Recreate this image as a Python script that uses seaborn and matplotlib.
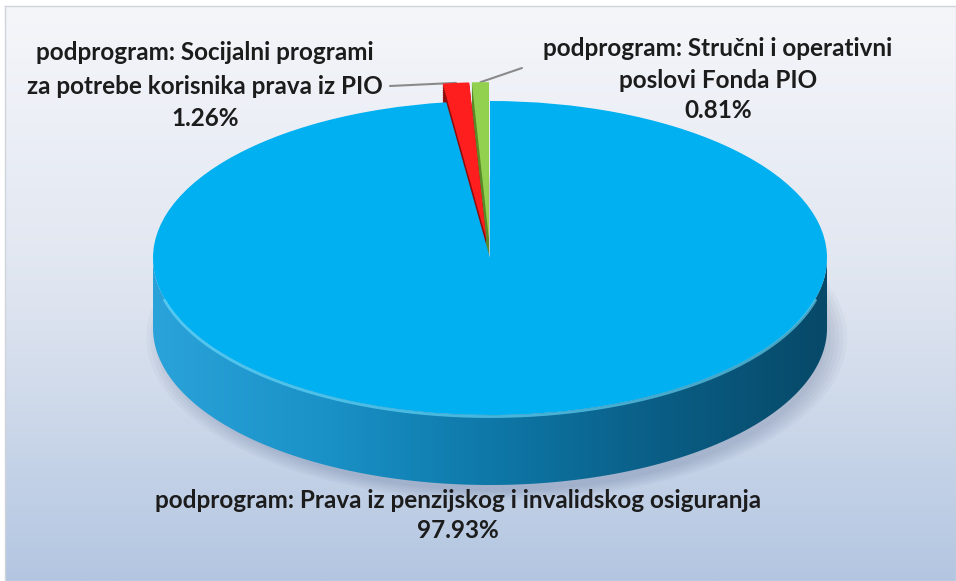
import numpy as np
import matplotlib
matplotlib.use("Agg")
import matplotlib.pyplot as plt
import seaborn as sns
from matplotlib.colors import LinearSegmentedColormap
from matplotlib.patches import Polygon, Ellipse

sns.set_theme(style="white")
plt.rcParams['font.family'] = ['Lato', 'DejaVu Sans']

# data
programs = ["Prava iz penzijskog i invalidskog osiguranja",
            "Socijalni programi za potrebe korisnika prava iz PIO",
            "Stručni i operativni poslovi Fonda PIO"]
shares = [97.93, 1.26, 0.81]
pct_labels = ["97.93%", "1.26%", "0.81%"]
label_lines = [
    ["podprogram: Prava iz penzijskog i invalidskog osiguranja"],
    ["podprogram: Socijalni programi", "za potrebe korisnika prava iz PIO"],
    ["podprogram: Stručni i operativni", "poslovi Fonda PIO"],
]
top_colors = ["#00b0f0", "#ff1e1e", "#92d050"]
side_colors = ["none", "#8e0c0c", "#5a8a28"]
explode = [0.0, 0.12, 0.12]

W, H = 956, 581
CX, CY, RX, RY = 490, 258, 337, 157   # pixel geometry of the pie top
DEPTH = 70 / RY

fig = plt.figure(figsize=(W / 100, H / 100), dpi=100, facecolor="white")

# background gradient
bg = fig.add_axes([5 / W, 0, 1 - 5 / W, 1 - 6 / H])
grad = np.linspace(0, 1, 256).reshape(-1, 1)
bg_cmap = LinearSegmentedColormap.from_list("bg", ["#f5f6fa", "#dfe5f0", "#b3c6e1"])
bg.imshow(grad, aspect="auto", cmap=bg_cmap, extent=(0, 1, 0, 1), origin="upper")
bg.set_xticks([])
bg.set_yticks([])
for s in bg.spines.values():
    s.set_edgecolor("#d0d4da")
    s.set_linewidth(1)

ax = fig.add_axes([0, 0, 1, 1])
ax.patch.set_alpha(0)

# soft shadow below the pie
for s in np.linspace(1.04, 0.98, 6):
    ax.add_patch(Ellipse((0.02, -DEPTH - 0.06), 2 * s, 2 * s,
                         facecolor="#3c4f78", edgecolor="none", alpha=0.04, zorder=0.5))

# side walls of the small exploded slices
for off in np.linspace(DEPTH, 0.01, 30):
    w, _ = ax.pie(shares, colors=side_colors, explode=explode, startangle=90,
                  counterclock=False, center=(0, -off),
                  wedgeprops=dict(linewidth=0))
    for p in w:
        p.set_zorder(1)

# side wall of the big slice with horizontal gradient
t = np.linspace(np.pi, 2 * np.pi, 300)
band = np.vstack([np.column_stack([np.cos(t), np.sin(t)]),
                  np.column_stack([np.cos(t[::-1]), np.sin(t[::-1]) - DEPTH])])
clip = Polygon(band, closed=True, facecolor="none", edgecolor="none")
ax.add_patch(clip)
side_cmap = LinearSegmentedColormap.from_list(
    "side", ["#2aa3da", "#1a92c8", "#0e78a8", "#0a5e86", "#074968"])
hgrad = np.linspace(0, 1, 256).reshape(1, -1)
im = ax.imshow(hgrad, extent=(-1, 1, -1 - DEPTH, 0), aspect="auto",
               cmap=side_cmap, zorder=1.5)
im.set_clip_path(clip)

# top face
wedges, _ = ax.pie(shares, colors=top_colors, explode=explode, startangle=90,
                   counterclock=False, wedgeprops=dict(linewidth=0))
for p in wedges:
    p.set_zorder(3)

# bright rim along the front edge
tr = np.linspace(np.radians(195), np.radians(345), 200)
ax.plot(np.cos(tr), np.sin(tr) - 0.01, color="#6fe0ff", lw=2, alpha=0.6, zorder=3.5)

ax.set_xlim(-CX / RX, (W - CX) / RX)
ax.set_ylim((CY - H) / RY, CY / RY)
ax.set_aspect("auto")
ax.axis("off")


def to_data(px, py):
    return (px - CX) / RX, (CY - py) / RY


txt = dict(ha="center", va="center", fontsize=17.5, fontweight="bold", color="#1c1c1c")

# label positions (pixels)
label_pos = [
    (458, [500, 531]),
    (205, [52, 86, 119]),
    (718, [48, 80, 111]),
]
for i, (x, ys) in enumerate(label_pos):
    lines = label_lines[i] + [pct_labels[i]]
    for line, y in zip(lines, ys):
        fig.text(x / W, 1 - y / H, line, **txt)

# leader lines for the small slices
angles = []
start = 90.0
for v in shares:
    span = 360 * v / sum(shares)
    angles.append(np.radians(start - span / 2))
    start -= span

rim = [(1 + explode[i]) for i in range(3)]
p1 = (rim[1] * np.cos(angles[1]), rim[1] * np.sin(angles[1]))
ax.plot([to_data(390, 86)[0], p1[0]], [to_data(390, 86)[1], p1[1]],
        color="#8a8a8a", lw=1.5, zorder=2)
p2 = (rim[2] * np.cos(angles[2]), rim[2] * np.sin(angles[2]))
ax.plot([p2[0], to_data(522, 68)[0]], [p2[1], to_data(522, 68)[1]],
        color="#8a8a8a", lw=1.5, zorder=2)

fig.savefig("out.png", dpi=100, facecolor="white")
